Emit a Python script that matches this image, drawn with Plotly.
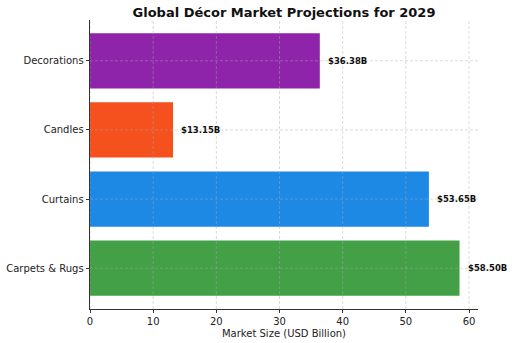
import plotly.graph_objects as go

categories = ["Carpets & Rugs", "Curtains", "Candles", "Decorations"]
values = [58.50, 53.65, 13.15, 36.38]
colors = ["#43A047", "#1E88E5", "#F4511E", "#8E24AA"]
labels = [f"${v:.2f}B" for v in values]
x_ticks = [0, 10, 20, 30, 40, 50, 60]

font_family = "DejaVu Sans"

fig = go.Figure()
fig.add_trace(go.Bar(
    y=categories,
    x=values,
    orientation="h",
    width=0.8,
    marker=dict(color=colors, line=dict(width=0)),
    hoverinfo="skip",
))

# value annotations just to the right of each bar
for cat, v, lab in zip(categories, values, labels):
    fig.add_annotation(
        x=v + 1, y=cat, text=f"<b>{lab}</b>", showarrow=False,
        xanchor="left", yanchor="middle",
        font=dict(family=font_family, size=8.5, color="#111111"),
    )

# dashed grid drawn on top of the bars
grid_style = dict(color="rgba(170,170,170,0.55)", width=0.8, dash="3px,2px")
for t in x_ticks:
    fig.add_shape(type="line", xref="x", yref="paper", x0=t, x1=t, y0=0, y1=1,
                  line=grid_style, layer="above")
for cat in categories:
    fig.add_shape(type="line", xref="paper", yref="y", x0=0, x1=1, y0=cat, y1=cat,
                  line=grid_style, layer="above")

max_v = max(values)
fig.update_layout(
    width=512, height=343,
    margin=dict(l=90, r=34, t=20, b=34),
    paper_bgcolor="white", plot_bgcolor="white",
    showlegend=False,
    bargap=0.2,
    title=dict(
        text="<b>Global Décor Market Projections for 2029</b>",
        x=(90 + 478) / 2 / 512, xanchor="center",
        y=1 - 12 / 343, yanchor="middle",
        font=dict(family=font_family, size=13, color="#111111"),
    ),
    xaxis=dict(
        range=[0, max_v * 1.05],
        tickvals=x_ticks,
        ticks="outside", ticklen=3.5, tickwidth=0.8, tickcolor="#333333",
        showline=True, linecolor="#333333", linewidth=0.8,
        showgrid=False, zeroline=False, automargin=False,
        tickfont=dict(family=font_family, size=10, color="#222222"),
        title=dict(text="Market Size (USD Billion)",
                   font=dict(family=font_family, size=10, color="#222222"),
                   standoff=3),
    ),
    yaxis=dict(
        range=[-0.59, 3.59],
        categoryorder="array", categoryarray=categories,
        ticks="outside", ticklen=3.5, tickwidth=0.8, tickcolor="#333333",
        showline=True, linecolor="#333333", linewidth=0.8,
        showgrid=False, zeroline=False, automargin=False,
        tickfont=dict(family=font_family, size=10, color="#222222"),
    ),
)

fig.write_html("out.html")
